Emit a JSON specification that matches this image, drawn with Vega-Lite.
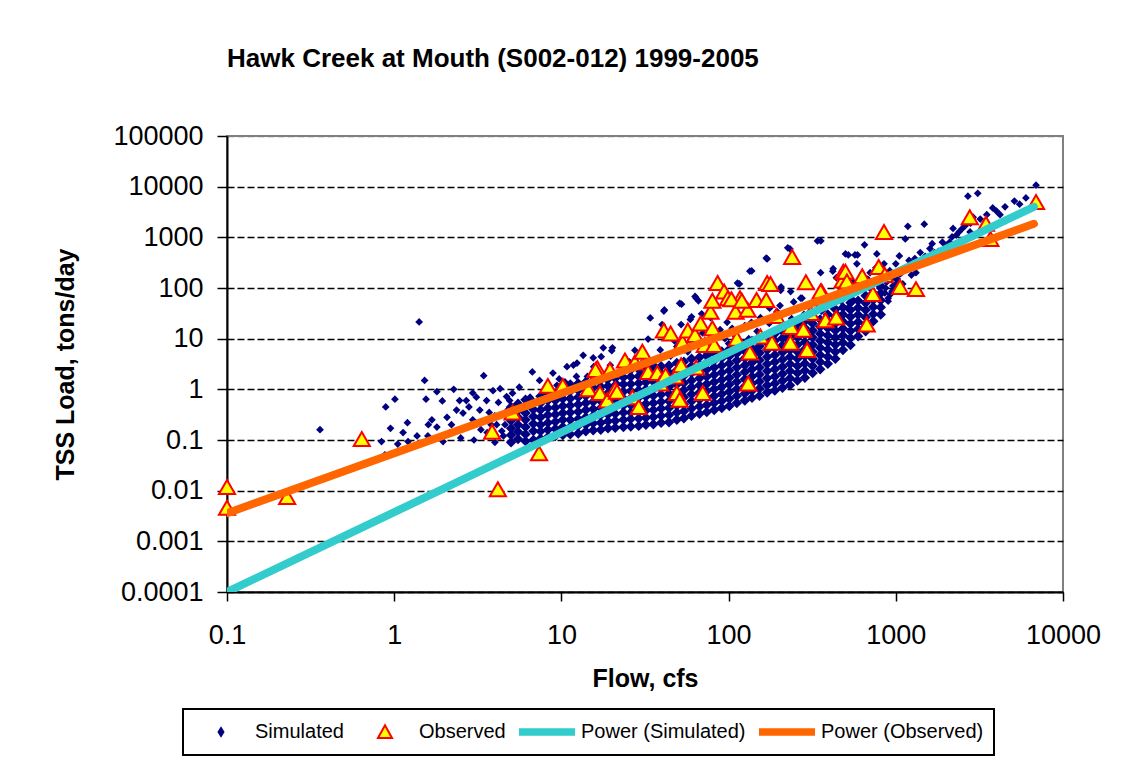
{
"$schema": "https://vega.github.io/schema/vega-lite/v6.json",
"width": 836, "height": 456,
"autosize": {"type": "none"},
"padding": {"left": 227, "top": 136, "right": 71, "bottom": 166},
"background": "white",
"title": {"text": "Hawk Creek at Mouth (S002-012)  1999-2005", "anchor": "start", "frame": "group", "font": "Liberation Sans", "fontSize": 26, "fontWeight": "bold", "color": "black", "baseline": "alphabetic", "offset": 29},
"datasets": {
"sim": [
{"q":0.36,"l":0.16},{"q":0.84,"l":0.093},{"q":0.88,"l":0.051},{"q":0.89,"l":0.45},{"q":1.01,"l":0.64},{"q":1.05,"l":0.083},{"q":1.13,"l":0.14},{"q":1.21,"l":0.093},{"q":1.37,"l":0.12},{"q":1.41,"l":21.4},{"q":1.52,"l":1.5},{"q":1.55,"l":0.64},{"q":1.59,"l":0.12},{"q":1.68,"l":0.25},{"q":1.8,"l":0.9},{"q":1.8,"l":0.18},{"q":1.94,"l":0.59},{"q":1.96,"l":0.093},{"q":2.07,"l":0.28},{"q":2.15,"l":0.14},{"q":2.27,"l":1.0},{"q":2.36,"l":0.39},{"q":2.46,"l":0.6},{"q":2.58,"l":0.34},{"q":2.7,"l":0.6},{"q":2.95,"l":0.85},{"q":2.95,"l":0.25},{"q":3.25,"l":0.39},{"q":3.43,"l":1.86},{"q":3.57,"l":0.6},{"q":3.6,"l":0.14},{"q":3.9,"l":0.94},{"q":3.8,"l":0.2},{"q":2.5,"l":0.11},{"q":3.0,"l":0.1},{"q":3.3,"l":0.16},{"q":2.2,"l":0.2},{"q":1.6,"l":0.2},{"q":1.2,"l":0.22},{"q":0.95,"l":0.17},{"q":2.8,"l":0.45},{"q":3.1,"l":0.7},{"q":3.7,"l":0.35},
{"q":4.0,"l":0.09},{"q":4.0,"l":0.3},{"q":4.2,"l":0.55},{"q":4.3,"l":1.03},{"q":4.4,"l":0.15},{"q":4.5,"l":0.12},{"q":4.6,"l":0.2},{"q":4.7,"l":0.72},{"q":4.8,"l":0.4},{"q":5.1,"l":0.84},{"q":5.6,"l":1.1},{"q":6.5,"l":0.7},{"q":6.7,"l":2.2},{"q":7.4,"l":1.5},{"q":7.9,"l":0.9},{"q":8.9,"l":2.1},{"q":9.4,"l":1.2},{"q":9.7,"l":1.6},{"q":4.1,"l":0.2},{"q":4.9,"l":0.6},
{"q":10.8,"l":2.8},{"q":11.8,"l":3.0},{"q":12.4,"l":3.3},{"q":13.5,"l":4.7},{"q":14.3,"l":1.8},{"q":15.5,"l":4.2},{"q":16.6,"l":2.3},{"q":17.3,"l":4.4},{"q":17.8,"l":6.6},{"q":18.7,"l":1.5},{"q":19.6,"l":3.0},{"q":20,"l":5.8},{"q":20.2,"l":6.6},{"q":10.5,"l":1.4},{"q":12.3,"l":1.8},{"q":15.6,"l":2.8},
{"q":21.5,"l":1.3},{"q":23,"l":2.8},{"q":25.5,"l":3.5},{"q":27.5,"l":5.9},{"q":29.5,"l":2.2},{"q":32,"l":4.0},{"q":33,"l":9.8},{"q":34,"l":25.6},{"q":36,"l":3.0},{"q":39,"l":6.0},{"q":40,"l":19},{"q":21.8,"l":2.0},{"q":30.2,"l":3.3},
{"q":41,"l":35},{"q":41.3,"l":37},{"q":45,"l":4.5},{"q":49,"l":7},{"q":51,"l":50},{"q":52,"l":19},{"q":52.3,"l":48},{"q":57,"l":5.5},{"q":59,"l":24},{"q":60,"l":27},{"q":63,"l":68},{"q":64,"l":63},{"q":66,"l":56},{"q":68,"l":8},{"q":69,"l":31},{"q":70,"l":13},{"q":74,"l":5},{"q":78,"l":26},{"q":79,"l":11},{"q":44.5,"l":12},{"q":47.5,"l":9},{"q":64.5,"l":12},{"q":54.5,"l":6},{"q":75.5,"l":9},
{"q":89,"l":15},{"q":90,"l":5.5},{"q":98,"l":21},{"q":100,"l":8},{"q":108,"l":12},{"q":113,"l":125},{"q":116,"l":120},{"q":118,"l":6},{"q":125,"l":18},{"q":132,"l":10},{"q":134,"l":215},{"q":137,"l":21},{"q":137.5,"l":217},{"q":145,"l":6},{"q":148,"l":14},{"q":85,"l":7},{"q":95,"l":10},{"q":105,"l":16},{"q":127,"l":7.5},
{"q":155,"l":26},{"q":160,"l":9},{"q":168,"l":390},{"q":170,"l":375},{"q":175,"l":20},{"q":186,"l":13},{"q":195,"l":34},{"q":205,"l":90},{"q":206,"l":105},{"q":212,"l":18},{"q":220,"l":10},{"q":226,"l":620},{"q":233,"l":590},{"q":235,"l":85},{"q":238,"l":25},{"q":245,"l":53},{"q":256,"l":15},{"q":270,"l":63},{"q":275,"l":63},{"q":282,"l":30},{"q":290,"l":125},{"q":268,"l":20},{"q":176,"l":40},{"q":203,"l":45},
{"q":315,"l":25},{"q":335,"l":50},{"q":340,"l":850},{"q":356,"l":850},{"q":355,"l":200},{"q":360,"l":35},{"q":380,"l":65},{"q":395,"l":30},{"q":410,"l":45},{"q":420,"l":215},{"q":422,"l":240},{"q":435,"l":70},{"q":450,"l":30},{"q":470,"l":55},{"q":500,"l":470},{"q":510,"l":200},{"q":515,"l":40},{"q":520,"l":450},{"q":550,"l":60},{"q":570,"l":450},{"q":575,"l":95},{"q":590,"l":450},{"q":376,"l":40},{"q":465,"l":100},{"q":521,"l":90},{"q":555,"l":130},{"q":585,"l":300},{"q":441,"l":160},
{"q":620,"l":120},{"q":650,"l":710},{"q":680,"l":150},{"q":720,"l":90},{"q":760,"l":250},{"q":770,"l":470},{"q":800,"l":100},{"q":840,"l":180},{"q":860,"l":80},{"q":880,"l":130},{"q":900,"l":63},{"q":920,"l":220},{"q":950,"l":86},{"q":980,"l":160},{"q":1000,"l":300},{"q":1050,"l":430},{"q":1080,"l":200},{"q":1100,"l":120},{"q":1140,"l":930},{"q":1180,"l":1650},{"q":1150,"l":250},{"q":1200,"l":350},{"q":702,"l":200},{"q":850,"l":300},{"q":1002,"l":120},{"q":900,"l":55},{"q":930,"l":75},{"q":960,"l":110},{"q":1020,"l":150},{"q":1060,"l":190},{"q":870,"l":100},
{"q":1240,"l":180},{"q":1300,"l":380},{"q":1350,"l":300},{"q":1400,"l":500},{"q":1480,"l":1820},{"q":1500,"l":420},{"q":1600,"l":600},{"q":1700,"l":500},{"q":1730,"l":410},{"q":1800,"l":530},{"q":1900,"l":800},{"q":2000,"l":700},{"q":2100,"l":800},{"q":2170,"l":1020},{"q":2300,"l":1100},{"q":2400,"l":1300},{"q":2500,"l":1500},{"q":2600,"l":1700},{"q":2700,"l":6500},{"q":2780,"l":1280},{"q":2800,"l":1900},{"q":3090,"l":7400},{"q":3200,"l":2300},{"q":3500,"l":2800},{"q":4000,"l":3300},{"q":4500,"l":4000},{"q":5120,"l":5200},{"q":5500,"l":4500},{"q":6000,"l":6000},{"q":6900,"l":10700},{"q":2200,"l":1500},{"q":2900,"l":2500},{"q":3800,"l":3800},{"q":4200,"l":2800},{"q":1650,"l":750},{"q":1250,"l":250},{"q":1320,"l":200}
],
"simd": [
{"q":5,"l":0.09},{"q":5,"l":0.125},{"q":5,"l":0.17},{"q":5,"l":0.24},{"q":5,"l":0.33},{"q":5,"l":0.45},
{"q":5.5,"l":0.105},{"q":5.5,"l":0.145},{"q":5.5,"l":0.2},{"q":5.5,"l":0.28},{"q":5.5,"l":0.38},{"q":5.5,"l":0.52},
{"q":6.1,"l":0.095},{"q":6.1,"l":0.13},{"q":6.1,"l":0.18},{"q":6.1,"l":0.25},{"q":6.1,"l":0.34},{"q":6.1,"l":0.47},{"q":6.1,"l":0.62},
{"q":6.8,"l":0.1},{"q":6.8,"l":0.15},{"q":6.8,"l":0.21},{"q":6.8,"l":0.29},{"q":6.8,"l":0.4},{"q":6.8,"l":0.55},
{"q":7.5,"l":0.107},{"q":7.5,"l":0.148},{"q":7.5,"l":0.2},{"q":7.5,"l":0.28},{"q":7.5,"l":0.39},{"q":7.5,"l":0.53},{"q":7.5,"l":0.73},
{"q":8.3,"l":0.115},{"q":8.3,"l":0.16},{"q":8.3,"l":0.22},{"q":8.3,"l":0.31},{"q":8.3,"l":0.43},{"q":8.3,"l":0.6},{"q":8.3,"l":0.82},
{"q":9.2,"l":0.12},{"q":9.2,"l":0.166},{"q":9.2,"l":0.23},{"q":9.2,"l":0.32},{"q":9.2,"l":0.44},{"q":9.2,"l":0.6},{"q":9.2,"l":0.84},
{"q":10.2,"l":0.125},{"q":10.2,"l":0.18},{"q":10.2,"l":0.25},{"q":10.2,"l":0.34},{"q":10.2,"l":0.47},{"q":10.2,"l":0.65},{"q":10.2,"l":0.9},{"q":10.2,"l":1.2},
{"q":11.3,"l":0.13},{"q":11.3,"l":0.18},{"q":11.3,"l":0.25},{"q":11.3,"l":0.35},{"q":11.3,"l":0.48},{"q":11.3,"l":0.66},{"q":11.3,"l":0.92},{"q":11.3,"l":1.25},
{"q":12.6,"l":0.135},{"q":12.6,"l":0.19},{"q":12.6,"l":0.26},{"q":12.6,"l":0.36},{"q":12.6,"l":0.5},{"q":12.6,"l":0.7},{"q":12.6,"l":0.96},{"q":12.6,"l":1.3},
{"q":14,"l":0.148},{"q":14,"l":0.2},{"q":14,"l":0.28},{"q":14,"l":0.39},{"q":14,"l":0.54},{"q":14,"l":0.74},{"q":14,"l":1.0},{"q":14,"l":1.4},
{"q":15.5,"l":0.155},{"q":15.5,"l":0.215},{"q":15.5,"l":0.3},{"q":15.5,"l":0.41},{"q":15.5,"l":0.57},{"q":15.5,"l":0.78},{"q":15.5,"l":1.08},{"q":15.5,"l":1.5},
{"q":17.2,"l":0.16},{"q":17.2,"l":0.22},{"q":17.2,"l":0.31},{"q":17.2,"l":0.43},{"q":17.2,"l":0.59},{"q":17.2,"l":0.81},{"q":17.2,"l":1.12},{"q":17.2,"l":1.55},
{"q":19,"l":0.17},{"q":19,"l":0.235},{"q":19,"l":0.32},{"q":19,"l":0.45},{"q":19,"l":0.62},{"q":19,"l":0.85},{"q":19,"l":1.17},{"q":19,"l":1.6},
{"q":21,"l":0.175},{"q":21,"l":0.24},{"q":21,"l":0.33},{"q":21,"l":0.46},{"q":21,"l":0.63},{"q":21,"l":0.87},{"q":21,"l":1.2},{"q":21,"l":1.66},
{"q":23.5,"l":0.18},{"q":23.5,"l":0.25},{"q":23.5,"l":0.35},{"q":23.5,"l":0.48},{"q":23.5,"l":0.66},{"q":23.5,"l":0.91},{"q":23.5,"l":1.26},{"q":23.5,"l":1.74},{"q":23.5,"l":2.4},
{"q":26,"l":0.185},{"q":26,"l":0.26},{"q":26,"l":0.35},{"q":26,"l":0.49},{"q":26,"l":0.67},{"q":26,"l":0.93},{"q":26,"l":1.28},{"q":26,"l":1.77},{"q":26,"l":2.44},
{"q":29,"l":0.19},{"q":29,"l":0.265},{"q":29,"l":0.365},{"q":29,"l":0.5},{"q":29,"l":0.69},{"q":29,"l":0.96},{"q":29,"l":1.32},{"q":29,"l":1.82},{"q":29,"l":2.5},
{"q":32,"l":0.2},{"q":32,"l":0.275},{"q":32,"l":0.38},{"q":32,"l":0.52},{"q":32,"l":0.72},{"q":32,"l":1.0},{"q":32,"l":1.38},{"q":32,"l":1.9},{"q":32,"l":2.6},
{"q":35.5,"l":0.205},{"q":35.5,"l":0.285},{"q":35.5,"l":0.39},{"q":35.5,"l":0.54},{"q":35.5,"l":0.75},{"q":35.5,"l":1.03},{"q":35.5,"l":1.42},{"q":35.5,"l":1.96},{"q":35.5,"l":2.7},
{"q":39.5,"l":0.22},{"q":39.5,"l":0.3},{"q":39.5,"l":0.42},{"q":39.5,"l":0.57},{"q":39.5,"l":0.79},{"q":39.5,"l":1.1},{"q":39.5,"l":1.5},{"q":39.5,"l":2.07},{"q":39.5,"l":2.86},
{"q":44,"l":0.225},{"q":44,"l":0.31},{"q":44,"l":0.43},{"q":44,"l":0.59},{"q":44,"l":0.82},{"q":44,"l":1.13},{"q":44,"l":1.55},{"q":44,"l":2.14},{"q":44,"l":2.95},
{"q":49,"l":0.25},{"q":49,"l":0.35},{"q":49,"l":0.48},{"q":49,"l":0.66},{"q":49,"l":0.9},{"q":49,"l":1.25},{"q":49,"l":1.72},{"q":49,"l":2.38},{"q":49,"l":3.3},
{"q":54,"l":0.27},{"q":54,"l":0.37},{"q":54,"l":0.51},{"q":54,"l":0.7},{"q":54,"l":0.97},{"q":54,"l":1.34},{"q":54,"l":1.85},{"q":54,"l":2.55},{"q":54,"l":3.5},
{"q":60,"l":0.3},{"q":60,"l":0.42},{"q":60,"l":0.58},{"q":60,"l":0.8},{"q":60,"l":1.1},{"q":60,"l":1.5},{"q":60,"l":2.1},{"q":60,"l":2.9},{"q":60,"l":4.0},
{"q":67,"l":0.33},{"q":67,"l":0.46},{"q":67,"l":0.63},{"q":67,"l":0.87},{"q":67,"l":1.2},{"q":67,"l":1.65},{"q":67,"l":2.3},{"q":67,"l":3.1},{"q":67,"l":4.3},
{"q":74,"l":0.355},{"q":74,"l":0.49},{"q":74,"l":0.68},{"q":74,"l":0.93},{"q":74,"l":1.28},{"q":74,"l":1.77},{"q":74,"l":2.45},{"q":74,"l":3.4},{"q":74,"l":4.6},
{"q":82,"l":0.39},{"q":82,"l":0.54},{"q":82,"l":0.74},{"q":82,"l":1.02},{"q":82,"l":1.4},{"q":82,"l":1.94},{"q":82,"l":2.7},{"q":82,"l":3.7},{"q":82,"l":5.1},
{"q":91,"l":0.43},{"q":91,"l":0.59},{"q":91,"l":0.81},{"q":91,"l":1.12},{"q":91,"l":1.55},{"q":91,"l":2.14},{"q":91,"l":2.95},{"q":91,"l":4.1},{"q":91,"l":5.6},
{"q":101,"l":0.47},{"q":101,"l":0.65},{"q":101,"l":0.9},{"q":101,"l":1.24},{"q":101,"l":1.7},{"q":101,"l":2.36},{"q":101,"l":3.25},{"q":101,"l":4.5},{"q":101,"l":6.2},
{"q":112,"l":0.54},{"q":112,"l":0.74},{"q":112,"l":1.02},{"q":112,"l":1.41},{"q":112,"l":1.95},{"q":112,"l":2.7},{"q":112,"l":3.7},{"q":112,"l":5.1},{"q":112,"l":7.0},
{"q":125,"l":0.6},{"q":125,"l":0.83},{"q":125,"l":1.15},{"q":125,"l":1.58},{"q":125,"l":2.2},{"q":125,"l":3.0},{"q":125,"l":4.1},{"q":125,"l":5.7},{"q":125,"l":7.9},
{"q":138,"l":0.68},{"q":138,"l":0.94},{"q":138,"l":1.3},{"q":138,"l":1.8},{"q":138,"l":2.5},{"q":138,"l":3.4},{"q":138,"l":4.7},{"q":138,"l":6.5},{"q":138,"l":9.0},
{"q":153,"l":0.75},{"q":153,"l":1.04},{"q":153,"l":1.43},{"q":153,"l":1.97},{"q":153,"l":2.7},{"q":153,"l":3.75},{"q":153,"l":5.2},{"q":153,"l":7.1},{"q":153,"l":9.8},
{"q":170,"l":0.87},{"q":170,"l":1.2},{"q":170,"l":1.65},{"q":170,"l":2.3},{"q":170,"l":3.15},{"q":170,"l":4.35},{"q":170,"l":6.0},{"q":170,"l":8.3},{"q":170,"l":11.4},
{"q":189,"l":0.95},{"q":189,"l":1.3},{"q":189,"l":1.8},{"q":189,"l":2.5},{"q":189,"l":3.45},{"q":189,"l":4.75},{"q":189,"l":6.6},{"q":189,"l":9.1},{"q":189,"l":12.5},
{"q":210,"l":1.07},{"q":210,"l":1.48},{"q":210,"l":2.04},{"q":210,"l":2.8},{"q":210,"l":3.9},{"q":210,"l":5.4},{"q":210,"l":7.4},{"q":210,"l":10.2},{"q":210,"l":14},
{"q":233,"l":1.2},{"q":233,"l":1.65},{"q":233,"l":2.3},{"q":233,"l":3.15},{"q":233,"l":4.35},{"q":233,"l":6.0},{"q":233,"l":8.3},{"q":233,"l":11.4},{"q":233,"l":15.8},
{"q":258,"l":1.5},{"q":258,"l":2.1},{"q":258,"l":2.9},{"q":258,"l":4.0},{"q":258,"l":5.5},{"q":258,"l":7.6},{"q":258,"l":10.5},{"q":258,"l":14.5},{"q":258,"l":20},
{"q":286,"l":1.7},{"q":286,"l":2.35},{"q":286,"l":3.25},{"q":286,"l":4.5},{"q":286,"l":6.2},{"q":286,"l":8.5},{"q":286,"l":11.8},{"q":286,"l":16.2},{"q":286,"l":22},
{"q":318,"l":2.1},{"q":318,"l":2.9},{"q":318,"l":4.0},{"q":318,"l":5.5},{"q":318,"l":7.6},{"q":318,"l":10.5},{"q":318,"l":14.5},{"q":318,"l":20},{"q":318,"l":27},
{"q":353,"l":2.5},{"q":353,"l":3.45},{"q":353,"l":4.75},{"q":353,"l":6.6},{"q":353,"l":9.1},{"q":353,"l":12.5},{"q":353,"l":17.2},{"q":353,"l":24},
{"q":392,"l":3.2},{"q":392,"l":4.4},{"q":392,"l":6.1},{"q":392,"l":8.4},{"q":392,"l":11.6},{"q":392,"l":16},{"q":392,"l":22},{"q":392,"l":30},
{"q":435,"l":4.0},{"q":435,"l":5.5},{"q":435,"l":7.6},{"q":435,"l":10.5},{"q":435,"l":14.5},{"q":435,"l":20},{"q":435,"l":27.5},{"q":435,"l":38},
{"q":483,"l":6.0},{"q":483,"l":8.3},{"q":483,"l":11.5},{"q":483,"l":15.8},{"q":483,"l":21.8},{"q":483,"l":30},{"q":483,"l":41},
{"q":536,"l":7.5},{"q":536,"l":10.3},{"q":536,"l":14.2},{"q":536,"l":19.6},{"q":536,"l":27},{"q":536,"l":37},{"q":536,"l":51},
{"q":595,"l":11.2},{"q":595,"l":15.5},{"q":595,"l":21.4},{"q":595,"l":29.5},{"q":595,"l":40.7},{"q":595,"l":56},
{"q":660,"l":14},{"q":660,"l":19.3},{"q":660,"l":26.6},{"q":660,"l":36.7},{"q":660,"l":50.6},{"q":660,"l":70},
{"q":733,"l":22},{"q":733,"l":30.5},{"q":733,"l":42},{"q":733,"l":58},{"q":733,"l":80},
{"q":813,"l":30},{"q":813,"l":41.5},{"q":813,"l":57},{"q":813,"l":79},{"q":813,"l":109}
],
"obs": [
{"q":0.1,"l":0.0118},{"q":0.1,"l":0.0046},{"q":0.229,"l":0.0075},{"q":0.64,"l":0.105},{"q":4.17,"l":0.0107},{"q":3.85,"l":0.145},{"q":7.35,"l":0.055},{"q":5.1,"l":0.35},{"q":8.3,"l":1.17},{"q":10.2,"l":1.17},{"q":14.5,"l":1.0},{"q":16.4,"l":2.6},{"q":17,"l":0.85},{"q":18.8,"l":0.6},{"q":19.5,"l":2.4},{"q":21,"l":1.0},{"q":24,"l":3.7},{"q":27.5,"l":3.4},{"q":26.6,"l":0.7},{"q":29,"l":0.45},{"q":16,"l":2.4},{"q":21.5,"l":0.9},{"q":30.5,"l":5.5},{"q":33,"l":2.2},{"q":37.5,"l":2.1},{"q":39,"l":1.3},{"q":41,"l":14.5},{"q":42,"l":1.9},{"q":45,"l":12.7},{"q":48,"l":1.8},{"q":49,"l":0.85},{"q":51,"l":0.62},{"q":52,"l":3.0},{"q":53,"l":8.5},{"q":57,"l":14.5},{"q":63,"l":11.8},{"q":64,"l":2.7},{"q":68,"l":20},{"q":70,"l":0.85},{"q":72,"l":7.5},{"q":78,"l":34},{"q":80,"l":16},{"q":82,"l":7.5},{"q":86,"l":125},{"q":94,"l":85},{"q":99,"l":63},{"q":110,"l":34},{"q":112,"l":10},{"q":117,"l":63},{"q":130,"l":37},{"q":131,"l":1.3},{"q":134,"l":5.3},{"q":147,"l":58},{"q":155,"l":11},{"q":168,"l":58},{"q":170,"l":125},{"q":182,"l":8.3},{"q":193,"l":28},{"q":234,"l":8.3},{"q":236,"l":17},{"q":240,"l":410},{"q":280,"l":15},{"q":290,"l":130},{"q":295,"l":6},{"q":310,"l":32},{"q":360,"l":85},{"q":380,"l":23},{"q":440,"l":26},{"q":480,"l":140},{"q":485,"l":210},{"q":80,"l":56},{"q":104,"l":60},{"q":120,"l":56},{"q":178,"l":120},{"q":355,"l":85},{"q":500,"l":210},{"q":510,"l":135},{"q":630,"l":170},{"q":670,"l":19},{"q":730,"l":76},{"q":790,"l":260},{"q":850,"l":1280},{"q":860,"l":180},{"q":1060,"l":105},{"q":1320,"l":95},{"q":2770,"l":2500},{"q":3460,"l":1850},{"q":3680,"l":930},{"q":6900,"l":5000}
],
"fitS": [{"s":"Power (Simulated)","q":0.1,"l":0.0001},{"s":"Power (Simulated)","q":6700,"l":4000}],
"fitO": [{"s":"Power (Observed)","q":0.1,"l":0.0036},{"s":"Power (Observed)","q":6700,"l":1850}]
},
"encoding": {
"x": {"field": "q", "type": "quantitative", "scale": {"type": "log", "domain": [0.1, 10000], "nice": false},
 "axis": {"values": [0.1, 1, 10, 100, 1000, 10000], "format": "~g", "title": "Flow, cfs", "grid": false, "tickSize": 9, "labelPadding": 21, "titlePadding": 18}},
"y": {"field": "l", "type": "quantitative", "scale": {"type": "log", "domain": [0.0001, 100000], "nice": false},
 "axis": {"values": [0.0001, 0.001, 0.01, 0.1, 1, 10, 100, 1000, 10000, 100000], "format": "~g", "title": "TSS Load, tons/day", "grid": true,
  "gridColor": {"condition": {"test": "datum.value >= 99999", "value": "#808080"}, "value": "#000000"}, "gridDash": [7, 3], "gridWidth": 1.5, "tickSize": 10, "labelPadding": 14, "titlePadding": 34}}
},
"layer": [
{"data": {"name": "sim"}, "mark": {"type": "point", "shape": "diamond", "filled": true, "color": "#000080", "size": 60, "opacity": 1}},
{"data": {"name": "simd"}, "mark": {"type": "point", "shape": "diamond", "filled": true, "color": "#000080", "size": 110, "opacity": 1}},
{"data": {"name": "obs"}, "mark": {"type": "point", "shape": "triangle-up", "filled": true, "fill": "#FFFF00", "stroke": "#FF0000", "strokeWidth": 2, "size": 260, "opacity": 1}},
{"data": {"name": "fitS"}, "mark": {"type": "line", "strokeWidth": 8, "strokeCap": "round", "clip": true},
 "encoding": {"color": {"field": "s", "type": "nominal",
  "scale": {"domain": ["Simulated", "Observed", "Power (Simulated)", "Power (Observed)"], "range": ["#000080", "#FF0000", "#33CCCC", "#FF6600"]},
  "legend": {"title": null, "orient": "none", "legendX": -44, "legendY": 573, "direction": "horizontal",
   "strokeColor": "#000000", "fillColor": "#FFFFFF", "padding": 10, "columnPadding": 13, "labelOffset": 6, "labelLimit": 400,
   "labelFont": "Liberation Sans", "labelFontSize": 20, "labelColor": "#000000",
   "symbolSize": 2916, "symbolStrokeWidth": 2, "clipHeight": 26,
   "encode": {
    "legend": {"update": {"strokeWidth": {"value": 2}}},
    "symbols": {"update": {
     "shape": [{"test": "datum.value === 'Simulated'", "value": "M-0.09,0L0,-0.14L0.09,0L0,0.14Z"}, {"test": "datum.value === 'Observed'", "value": "M-0.26,0.22L0,-0.25L0.26,0.22Z"}, {"value": "M-1,-0.1L1,-0.1L1,0.1L-1,0.1Z"}],
     "fill": [{"test": "datum.value === 'Simulated'", "value": "#000080"}, {"test": "datum.value === 'Observed'", "value": "#FFFF00"}, {"test": "datum.value === 'Power (Simulated)'", "value": "#33CCCC"}, {"value": "#FF6600"}],
     "stroke": [{"test": "datum.value === 'Simulated'", "value": "#000080"}, {"test": "datum.value === 'Observed'", "value": "#FF0000"}, {"test": "datum.value === 'Power (Simulated)'", "value": "#33CCCC"}, {"value": "#FF6600"}],
     "strokeWidth": {"value": 2},
     "opacity": {"value": 1}
    }}
   }}}}},
{"data": {"name": "fitO"}, "mark": {"type": "line", "strokeWidth": 8, "strokeCap": "round", "clip": true},
 "encoding": {"color": {"field": "s", "type": "nominal"}}}
],
"config": {
"font": "Liberation Sans",
"view": {"stroke": "#808080", "strokeWidth": 2},
"axis": {"labelFont": "Liberation Sans", "labelFontSize": 27, "labelColor": "#000000", "labelFlush": false, "labelOverlap": false, "labelBound": false,
 "titleFont": "Liberation Sans", "titleFontSize": 25, "titleFontWeight": "bold", "titleColor": "#000000",
 "domainColor": "#000000", "domainWidth": 2, "tickColor": "#000000", "tickWidth": 1.5}
}
}
